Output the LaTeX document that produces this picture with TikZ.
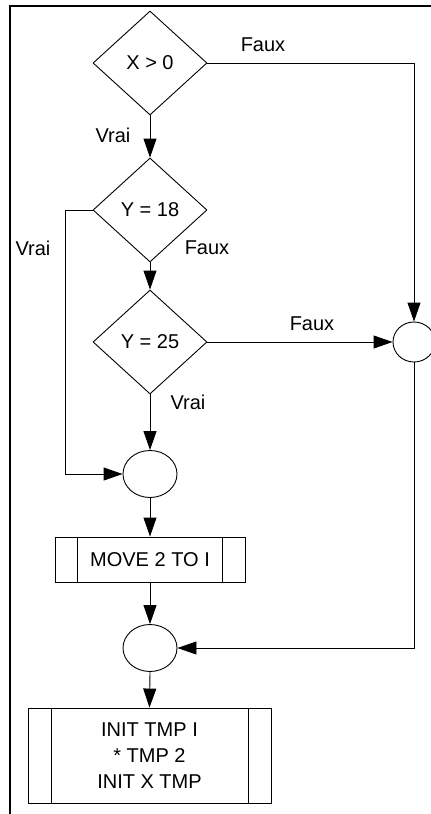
\documentclass[tikz,border=0pt]{standalone}
\usepackage{fontspec}
\setmainfont{Liberation Sans}
\usetikzlibrary{arrows.meta,shapes.geometric}

\tikzset{
	txt/.style={font=\fontsize{20}{26}\selectfont, inner sep=0pt},
	decision/.style={txt, draw, diamond, minimum width=114pt, minimum height=104pt},
	junction/.style={draw, ellipse, minimum width=54pt, minimum height=47pt, inner sep=0pt},
	process/.style={txt, draw, rectangle, align=center},
	flow/.style={-{Triangle[length=19pt,width=13pt]}},
}

\begin{document}
\begin{tikzpicture}[x=1pt, y=-1pt, line width=0.9pt]
	\useasboundingbox (0,0) rectangle (431,814);
	\draw[line width=2.4pt] (10,814) -- (10,6) -- (431,6);
	% tests
	\node[decision] (testX) at (150,63) {X > 0};
	\node[decision] (testY18) at (150,210) {Y = 18};
	\node[decision] (testY25) at (150,342) {Y = 25};
	% joins
	\node[junction, minimum width=42pt, minimum height=40pt] (joinR) at (414,342) {};
	\node[junction] (joinA) at (150,474) {};
	\node[junction] (joinB) at (150,648) {};
	% processes
	\node[process, minimum width=190pt, minimum height=45pt] (boxMove) at (150,559.5) {MOVE 2 TO I};
	\node[process, minimum width=243pt, minimum height=95pt] (boxInit) at (149.5,755.5) {INIT TMP I\\* TMP 2\\INIT X TMP};
	\foreach \b/\d in {boxMove/23, boxInit/23.5} {
		\draw ([xshift=\d pt]\b.north west) -- ([xshift=\d pt]\b.south west);
		\draw ([xshift=-\d pt]\b.north east) -- ([xshift=-\d pt]\b.south east);
	}
	% connectors
	\draw[flow] (testX.east) -| (joinR.north);
	\draw[flow] (testX.south) -- (testY18.north);
	\draw[flow] (testY18.west) -- (65,210) |- (joinA.west);
	\draw[flow] (testY18.south) -- (testY25.north);
	\draw[flow] (testY25.east) -- (joinR.west);
	\draw[flow] (testY25.south) -- (joinA.north);
	\draw[flow] (joinA.south) -- (boxMove.north);
	\draw[flow] (boxMove.south) -- (joinB.north);
	\draw[flow] (joinR.south) |- (joinB.east);
	\draw[flow] (joinB.south) -- (boxInit.north);
	% labels
	\node[txt] (lblFx) at (263,45) {Faux};
	\node[txt] (lblVx) at (113,135) {Vrai};
	\node[txt] (lblV18) at (33,248) {Vrai};
	\node[txt] (lblF18) at (207,248) {Faux};
	\node[txt] (lblF25) at (312,324) {Faux};
	\node[txt] (lblV25) at (188,402) {Vrai};
\end{tikzpicture}
\end{document}
